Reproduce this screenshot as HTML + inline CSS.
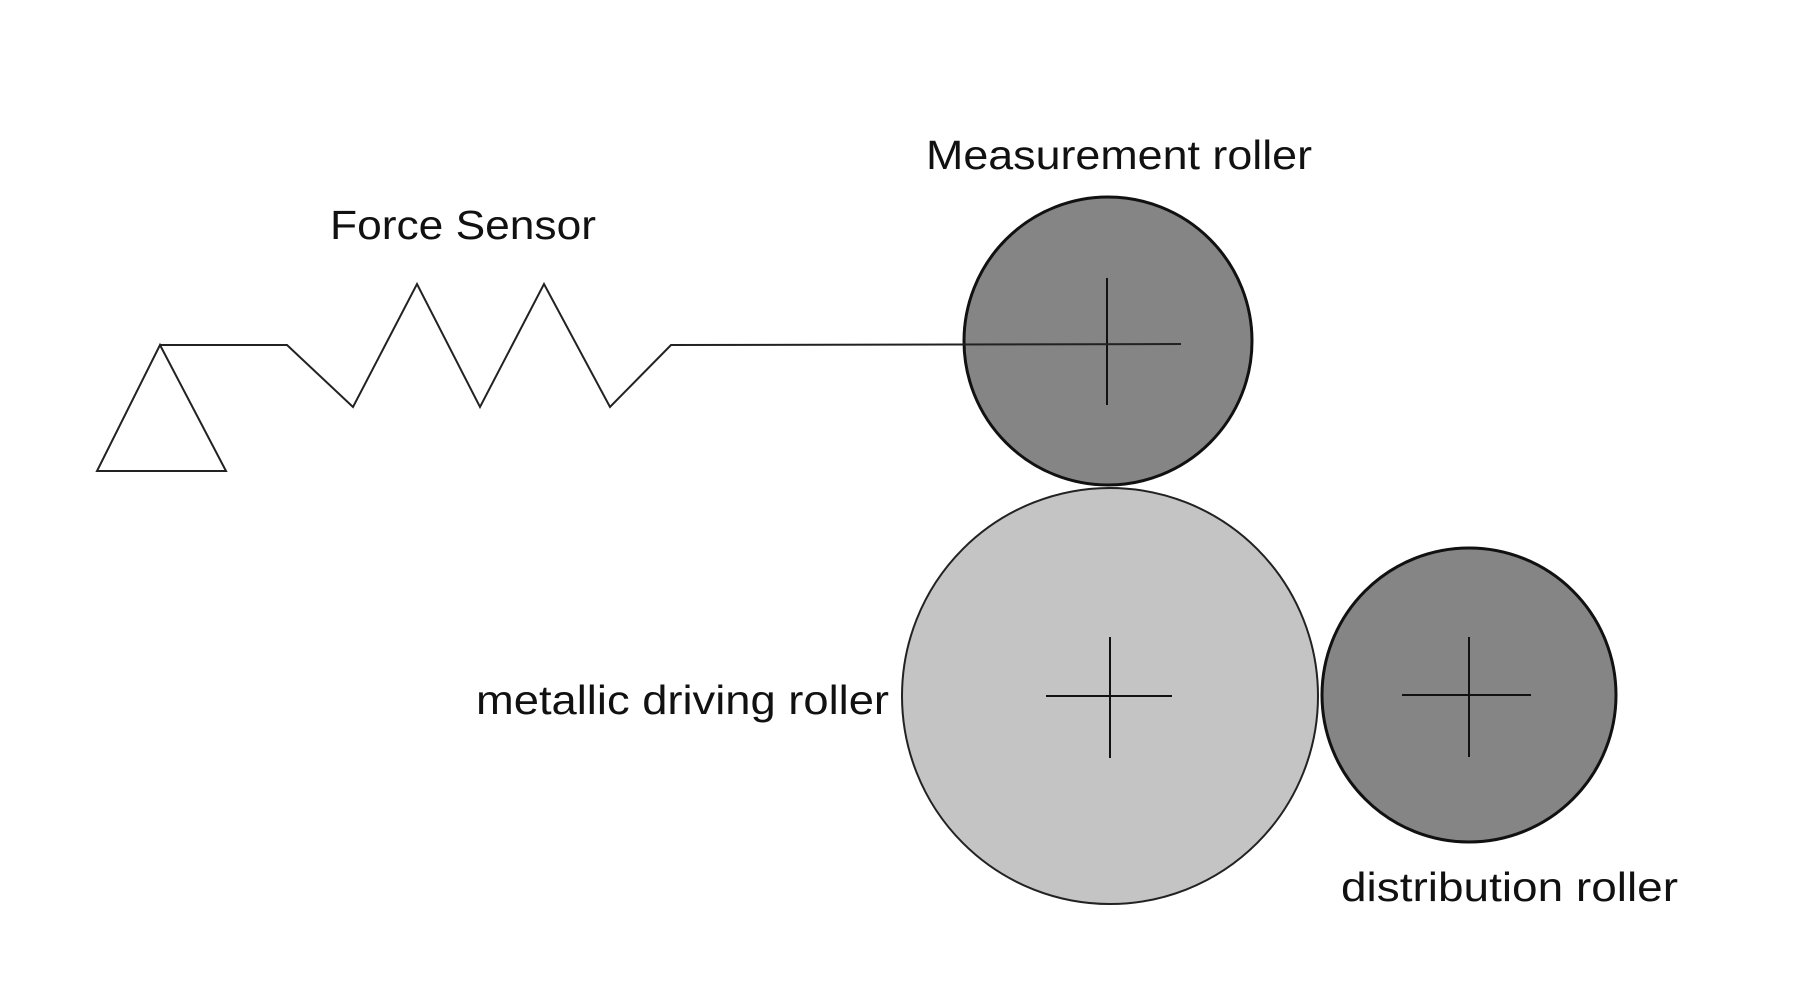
<!DOCTYPE html>
<html><head><meta charset="utf-8"><style>
html,body{margin:0;padding:0;background:#fff;}
svg{display:block;}
text{font-family:"Liberation Sans",sans-serif;fill:#111;}
</style></head><body>
<svg width="1794" height="1000" viewBox="0 0 1794 1000" xmlns="http://www.w3.org/2000/svg">
<circle cx="1110" cy="696" r="208" fill="#c4c4c4" stroke="#222" stroke-width="2"/>
<circle cx="1108" cy="341" r="144" fill="#858585" stroke="#111" stroke-width="3"/>
<circle cx="1469" cy="695" r="147" fill="#858585" stroke="#111" stroke-width="3"/>
<g stroke="#111" stroke-width="2" fill="none">
<line x1="1107" y1="278" x2="1107" y2="405"/>
<line x1="1046" y1="696" x2="1172" y2="696"/>
<line x1="1110" y1="637" x2="1110" y2="758"/>
<line x1="1402" y1="695" x2="1531" y2="695"/>
<line x1="1469" y1="637" x2="1469" y2="757"/>
</g>
<g stroke="#222" stroke-width="2" fill="none">
<polygon points="160,345 97,471 226,471"/>
<polyline points="160,345 287,345 353,407 417,284 480,407 544,284 610,407 671,345 1181,344"/>
</g>
<text x="330" y="239" font-size="41" textLength="266" lengthAdjust="spacingAndGlyphs">Force Sensor</text>
<text x="926" y="169" font-size="41" textLength="386" lengthAdjust="spacingAndGlyphs">Measurement roller</text>
<text x="476" y="714" font-size="41" textLength="413" lengthAdjust="spacingAndGlyphs">metallic driving roller</text>
<text x="1341" y="901" font-size="41" textLength="337" lengthAdjust="spacingAndGlyphs">distribution roller</text>
</svg>
</body></html>
